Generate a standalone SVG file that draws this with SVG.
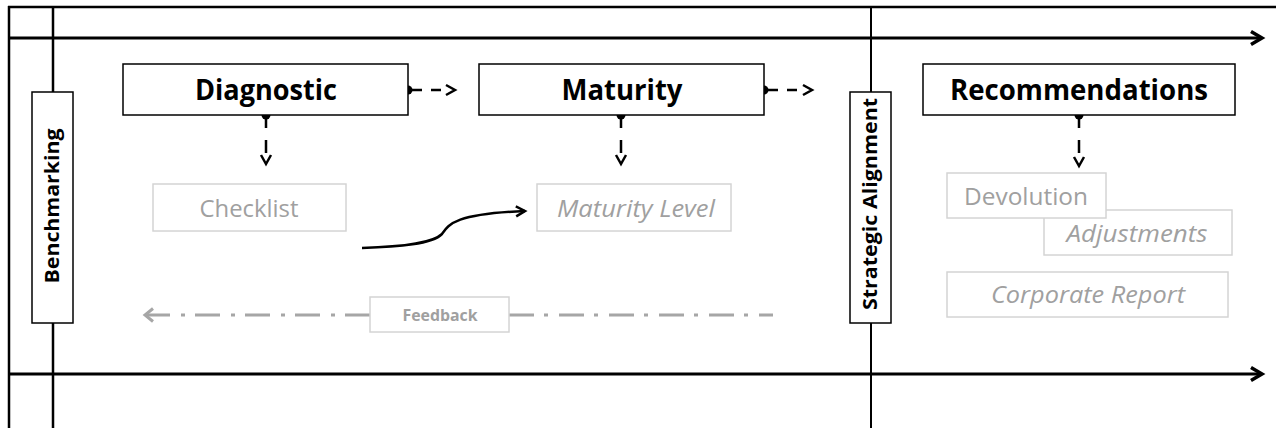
<svg xmlns="http://www.w3.org/2000/svg" width="1276" height="428" viewBox="0 0 1276 428">
  <style>
    .frame { stroke: #000; fill: none; }
    .main-box { fill: #fff; stroke: #000; stroke-width: 1.5; }
    .side-box { fill: #fff; stroke: #000; stroke-width: 1.5; }
    .sub-box { fill: #fff; stroke: #d4d4d4; stroke-width: 1.5; }
    .main-label { font-family: "Open Sans", "Noto Sans", sans-serif; font-weight: bold; font-size: 29px; fill: #000; text-anchor: middle; }
    .side-label { font-family: "Open Sans", "Noto Sans", sans-serif; font-weight: bold; font-size: 20px; fill: #000; text-anchor: middle; }
    .sub-label { font-family: "Open Sans", "Noto Sans", sans-serif; font-size: 23px; fill: #a0a0a0; text-anchor: middle; }
    .sub-label.it { font-style: italic; }
    .fb-label { font-family: "Open Sans", "Noto Sans", sans-serif; font-weight: bold; font-size: 16px; fill: #a0a0a0; text-anchor: middle; }
    .flow { stroke: #000; stroke-width: 2.5; fill: none; }
    .dot { fill: #000; }
    .feedback { stroke: #a6a6a6; stroke-width: 3; fill: none; stroke-dasharray: 25 10 4 11; }
  </style>
  <defs>
    <marker id="chev" markerUnits="userSpaceOnUse" markerWidth="14" markerHeight="14" refX="10" refY="6" orient="auto" overflow="visible">
      <path d="M1,1 L10,6 L1,11" fill="none" stroke="#000" stroke-width="2.5"/>
    </marker>
    <marker id="axis-head" markerUnits="userSpaceOnUse" markerWidth="16" markerHeight="16" refX="13" refY="8" orient="auto" overflow="visible">
      <path d="M2,1.5 L13,8 L2,14.5" fill="none" stroke="#000" stroke-width="3.5"/>
    </marker>
    <marker id="grey-head" markerUnits="userSpaceOnUse" markerWidth="16" markerHeight="16" refX="12" refY="8" orient="auto" overflow="visible">
      <path d="M4,1.5 L12,8 L4,14.5" fill="none" stroke="#a6a6a6" stroke-width="3"/>
    </marker>
  </defs>

  <rect width="1276" height="428" fill="#fff"/>

  <!-- frame: outer borders, lanes and time axes -->
  <g id="frame">
    <line class="frame" x1="8" y1="7" x2="1276" y2="7" stroke-width="2.5" stroke="#333"/>
    <line class="frame" x1="9" y1="6" x2="9" y2="428" stroke-width="2.5"/>
    <line class="frame" x1="53" y1="7" x2="53" y2="428" stroke-width="2.5"/>
    <line class="frame" x1="871" y1="7" x2="871" y2="428" stroke-width="2"/>
    <line class="frame" x1="10" y1="38" x2="1262" y2="38" stroke-width="3" marker-end="url(#axis-head)"/>
    <line class="frame" x1="10" y1="374" x2="1262" y2="374" stroke-width="3" marker-end="url(#axis-head)"/>
  </g>

  <!-- connectors -->
  <g id="connectors">
    <!-- Diagnostic -> Maturity -->
    <line class="flow" x1="408" y1="90" x2="455" y2="90" stroke-dasharray="14 9 10 30" marker-end="url(#chev)"/>
    <circle class="dot" cx="408" cy="90" r="4.5"/>
    <!-- Maturity -> Strategic Alignment -->
    <line class="flow" x1="764" y1="90" x2="812" y2="90" stroke-dasharray="14 9 10 30" marker-end="url(#chev)"/>
    <circle class="dot" cx="764" cy="90" r="4.5"/>
    <!-- Diagnostic -> Checklist -->
    <line class="flow" x1="266" y1="115" x2="266" y2="164" stroke-dasharray="13 12 13 30" marker-end="url(#chev)"/>
    <circle class="dot" cx="266" cy="115" r="4.5"/>
    <!-- Maturity -> Maturity Level -->
    <line class="flow" x1="621" y1="115" x2="621" y2="164" stroke-dasharray="13 12 13 30" marker-end="url(#chev)"/>
    <circle class="dot" cx="621" cy="115" r="4.5"/>
    <!-- Recommendations -> Devolution -->
    <line class="flow" x1="1079" y1="115" x2="1079" y2="166" stroke-dasharray="13 12 13 30" marker-end="url(#chev)"/>
    <circle class="dot" cx="1079" cy="115" r="4.5"/>
    <!-- Checklist -> Maturity Level curve -->
    <path class="flow" stroke-width="3" d="M362,248 C400,247 432,244 442,234 C449,224 455,214 525,211" marker-end="url(#chev)"/>
    <!-- Feedback loop (dash-dot) -->
    <line class="feedback" x1="509" y1="315" x2="773" y2="315" stroke-dasharray="14 10 4 10 26 10 4 10 26 10 4 10 26 10 4 10 26 10 4 10 26 10 4 10 26 10"/>
    <line class="feedback" x1="370" y1="315" x2="145" y2="315" marker-end="url(#grey-head)"/>
  </g>

  <!-- side lanes -->
  <g id="benchmarking">
    <rect class="side-box" x="32" y="92" width="41" height="231"/>
    <text class="side-label" transform="translate(59,206) rotate(-90)" textLength="155" lengthAdjust="spacingAndGlyphs">Benchmarking</text>
  </g>
  <g id="strategic-alignment">
    <rect class="side-box" x="850" y="92" width="41" height="231"/>
    <text class="side-label" transform="translate(877,204) rotate(-90)" textLength="212" lengthAdjust="spacingAndGlyphs">Strategic Alignment</text>
  </g>

  <!-- main stages -->
  <g id="diagnostic">
    <rect class="main-box" x="123" y="64" width="285" height="51"/>
    <text class="main-label" x="266" y="100" textLength="142" lengthAdjust="spacingAndGlyphs">Diagnostic</text>
  </g>
  <g id="maturity">
    <rect class="main-box" x="479" y="64" width="285" height="51"/>
    <text class="main-label" x="622" y="100" textLength="121" lengthAdjust="spacingAndGlyphs">Maturity</text>
  </g>
  <g id="recommendations">
    <rect class="main-box" x="923" y="64" width="312" height="51"/>
    <text class="main-label" x="1079" y="100" textLength="258" lengthAdjust="spacingAndGlyphs">Recommendations</text>
  </g>

  <!-- outputs -->
  <g id="checklist">
    <rect class="sub-box" x="153" y="184" width="193" height="47"/>
    <text class="sub-label" x="249" y="217" textLength="99" lengthAdjust="spacingAndGlyphs">Checklist</text>
  </g>
  <g id="maturity-level">
    <rect class="sub-box" x="537" y="184" width="194" height="47"/>
    <text class="sub-label it" x="636" y="217" textLength="158" lengthAdjust="spacingAndGlyphs">Maturity Level</text>
  </g>
  <g id="adjustments">
    <rect class="sub-box" x="1044" y="210" width="188" height="45"/>
    <text class="sub-label it" x="1137" y="242" textLength="141" lengthAdjust="spacingAndGlyphs">Adjustments</text>
  </g>
  <g id="devolution">
    <rect class="sub-box" x="947" y="173" width="159" height="45"/>
    <text class="sub-label" x="1026" y="205" textLength="124" lengthAdjust="spacingAndGlyphs">Devolution</text>
  </g>
  <g id="corporate-report">
    <rect class="sub-box" x="947" y="272" width="281" height="45"/>
    <text class="sub-label it" x="1088" y="303" textLength="194" lengthAdjust="spacingAndGlyphs">Corporate Report</text>
  </g>
  <g id="feedback">
    <rect class="sub-box" x="370" y="297" width="139" height="35"/>
    <text class="fb-label" x="440" y="321" textLength="75" lengthAdjust="spacingAndGlyphs">Feedback</text>
  </g>
</svg>
